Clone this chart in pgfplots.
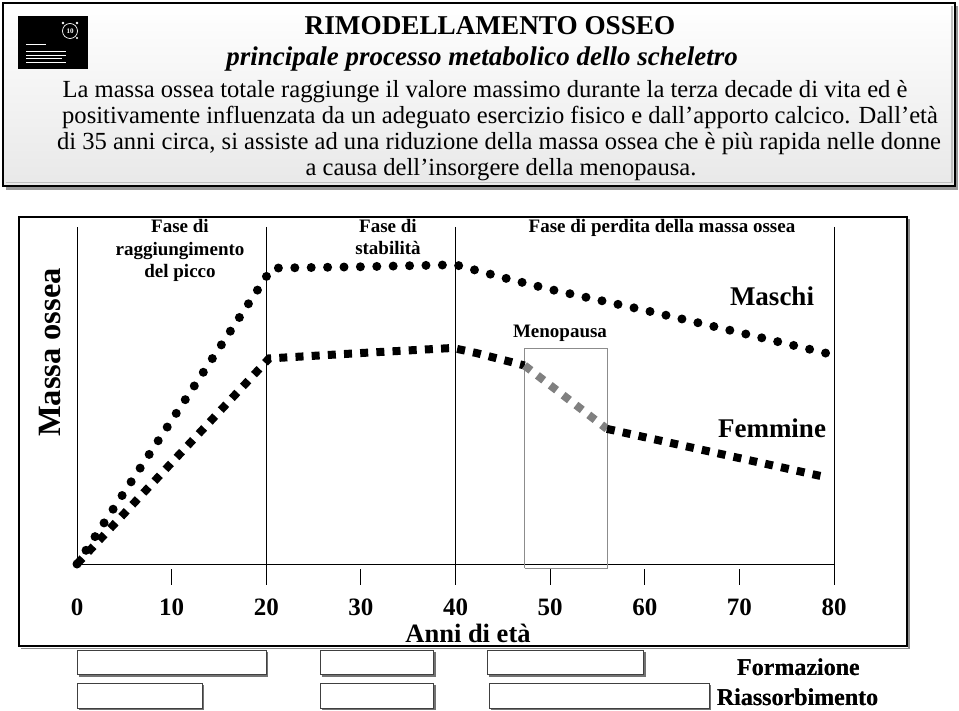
\documentclass[border=0pt]{standalone}
\usepackage{fontspec}
\setmainfont{Liberation Serif}
\usepackage{pgfplots}
\pgfplotsset{compat=1.18}
\newcommand{\fs}[1]{\fontsize{#1pt}{#1pt}\selectfont}
\begin{document}
\begin{tikzpicture}[x=1pt,y=-1pt]
\useasboundingbox (0,0) rectangle (959,711);
% ---------- top box ----------
\fill[black!40] (6,6) rectangle (958,190);
\shadedraw[top color=white, bottom color=black!9, draw=black, line width=2.8pt] (3,3) rectangle (955,186);
\draw[black!25, line width=1.2pt] (6,182.5) -- (952,182.5) -- (952,6);
% logo
\fill[black] (18,16) rectangle (88,69);
\draw[white, line width=0.7pt] (70,31) circle (7.5);
\node[white, font=\bfseries\fs{7}] at (70,31.5) {10};
\fill[white] (63,23) circle (1.3) (77,23) circle (1.3) (77,38) circle (1.2);
\draw[white, line width=0.5pt] (26,44) -- ++(20,0);
\draw[white, line width=0.5pt] (26,51) -- ++(40,0);
\draw[white, line width=0.5pt] (26,55) -- ++(40,0);
\draw[white, line width=0.5pt] (26,58.5) -- ++(36,0);
\draw[white, line width=0.5pt] (26,62) -- ++(40,0);
% titles
\node[anchor=base, font=\bfseries\fs{27.2}] at (490,35) {RIMODELLAMENTO OSSEO};
\node[anchor=base, font=\bfseries\itshape\fs{27}] at (482,66) {principale processo metabolico dello scheletro};
\node[anchor=base, font=\fs{24.6}] at (485,98) {La massa ossea totale raggiunge il valore massimo durante la terza decade di vita ed è};
\node[anchor=base, font=\fs{24.6}] at (500,124) {positivamente influenzata da un adeguato esercizio fisico e dall’apporto calcico. Dall’età};
\node[anchor=base, font=\fs{24.6}] at (499,150) {di 35 anni circa, si assiste ad una riduzione della massa ossea che è più rapida nelle donne};
\node[anchor=base, font=\fs{24.6}] at (501,176) {a causa dell’insorgere della menopausa.};
% ---------- chart frame ----------
\draw[black!45, line width=1.5pt] (21,648.5) -- (909,648.5) -- (909,219);
\draw[black, line width=1.8pt] (19,217) rectangle (907,646);
% ---------- axis ----------
\begin{axis}[
  at={(77pt,-564pt)}, anchor=south west,
  scale only axis, width=757pt, height=337pt,
  xmin=0, xmax=80, ymin=0, ymax=100,
  axis x line=bottom, axis y line=left,
  axis line style={-, black, line width=0.9pt},
  xtick={0,10,...,80}, ytick=\empty,
  xtick style={draw=none}, major tick length=0pt,
  xticklabel style={font=\bfseries\fs{25}, anchor=base, yshift=-51pt},
  /pgf/number format/assume math mode=true,
  clip=false,
]
% phase separators (long ticks)
\addplot[black, line width=0.9pt] coordinates {(20,100) (20,-6.2)};
\addplot[black, line width=0.9pt] coordinates {(40,100) (40,-6.2)};
\addplot[black, line width=0.9pt] coordinates {(80,100) (80,-6.2)};
% short ticks
\addplot[black, line width=0.9pt] coordinates {(10,-1.5) (10,-6.2)};
\addplot[black, line width=0.9pt] coordinates {(30,-1.5) (30,-6.2)};
\addplot[black, line width=0.9pt] coordinates {(50,-1.5) (50,-6.2)};
\addplot[black, line width=0.9pt] coordinates {(60,-1.5) (60,-6.2)};
\addplot[black, line width=0.9pt] coordinates {(70,-1.5) (70,-6.2)};
% menopause window
\addplot[black!45, line width=0.8pt] coordinates {(47.3,-1.2) (56.1,-1.2) (56.1,64.1) (47.3,64.1) (47.3,-1.2)};
% Maschi
\addplot[black, line width=9pt, line cap=round, dash pattern=on 0pt off 16.4pt]
  coordinates {(0,0) (20.6,87.8) (30,88.2) (40,88.8) (45,85.0) (50,81.5) (60,75.3) (70,68.7) (80,62.0)};
% Femmine
\addplot[black, line width=8pt, dash pattern=on 8pt off 8.2pt]
  coordinates {(0,0) (20.3,61.0) (30,62.6) (39.7,64.1) (42.2,62.6) (45.1,60.5) (47.3,58.9)};
\addplot[black!50, line width=8pt, dash pattern=on 8pt off 8.2pt]
  coordinates {(47.3,58.9) (56.0,40.1)};
\addplot[black, line width=8pt, dash pattern=on 8pt off 8.2pt]
  coordinates {(56.0,40.1) (66.5,33.6) (79.1,25.8)};
% Formazione / Riassorbimento boxes
\addplot[fill=black!55, draw=none, xshift=1.8pt, yshift=-1.8pt] coordinates {(0,-25.5) (20,-25.5) (20,-32.9) (0,-32.9)} --cycle;
\addplot[fill=black!55, draw=none, xshift=1.8pt, yshift=-1.8pt] coordinates {(25.7,-25.5) (37.7,-25.5) (37.7,-32.9) (25.7,-32.9)} --cycle;
\addplot[fill=black!55, draw=none, xshift=1.8pt, yshift=-1.8pt] coordinates {(43.4,-25.5) (59.9,-25.5) (59.9,-32.9) (43.4,-32.9)} --cycle;
\addplot[fill=black!55, draw=none, xshift=1.8pt, yshift=-1.8pt] coordinates {(0,-35.3) (13.2,-35.3) (13.2,-42.7) (0,-42.7)} --cycle;
\addplot[fill=black!55, draw=none, xshift=1.8pt, yshift=-1.8pt] coordinates {(25.7,-35.3) (37.7,-35.3) (37.7,-42.7) (25.7,-42.7)} --cycle;
\addplot[fill=black!55, draw=none, xshift=1.8pt, yshift=-1.8pt] coordinates {(43.6,-35.3) (66.8,-35.3) (66.8,-42.7) (43.6,-42.7)} --cycle;
\addplot[fill=white, draw=black!75, line width=0.8pt] coordinates {(0,-25.5) (20,-25.5) (20,-32.9) (0,-32.9)} --cycle;
\addplot[fill=white, draw=black!75, line width=0.8pt] coordinates {(25.7,-25.5) (37.7,-25.5) (37.7,-32.9) (25.7,-32.9)} --cycle;
\addplot[fill=white, draw=black!75, line width=0.8pt] coordinates {(43.4,-25.5) (59.9,-25.5) (59.9,-32.9) (43.4,-32.9)} --cycle;
\addplot[fill=white, draw=black!75, line width=0.8pt] coordinates {(0,-35.3) (13.2,-35.3) (13.2,-42.7) (0,-42.7)} --cycle;
\addplot[fill=white, draw=black!75, line width=0.8pt] coordinates {(25.7,-35.3) (37.7,-35.3) (37.7,-42.7) (25.7,-42.7)} --cycle;
\addplot[fill=white, draw=black!75, line width=0.8pt] coordinates {(43.6,-35.3) (66.8,-35.3) (66.8,-42.7) (43.6,-42.7)} --cycle;
\end{axis}
% ---------- chart texts ----------
\node[anchor=base, rotate=90, font=\bfseries\fs{32.5}] at (60,352.5) {Massa ossea};
\node[anchor=base, font=\bfseries\fs{19}] at (180,233) {Fase di};
\node[anchor=base, font=\bfseries\fs{19}] at (180,256) {raggiungimento};
\node[anchor=base, font=\bfseries\fs{19}] at (180,278) {del picco};
\node[anchor=base, font=\bfseries\fs{19}] at (388,233) {Fase di};
\node[anchor=base, font=\bfseries\fs{19}] at (388,255) {stabilità};
\node[anchor=base, font=\bfseries\fs{19}] at (662,233) {Fase di perdita della massa ossea};
\node[anchor=base, font=\bfseries\fs{27}] at (772,306) {Maschi};
\node[anchor=base, font=\bfseries\fs{27}] at (772,437) {Femmine};
\node[anchor=base, font=\bfseries\fs{19}] at (560,338) {Menopausa};
\node[anchor=base, font=\bfseries\fs{26.5}] at (468,642) {Anni di età};
\node[anchor=base, font=\bfseries\fs{24}] at (798.5,675) {Formazione};
\node[anchor=base, font=\bfseries\fs{24}] at (798.5,675.3) {Formazione};
\node[anchor=base, font=\bfseries\fs{24}] at (797.5,705) {Riassorbimento};
\node[anchor=base, font=\bfseries\fs{24}] at (797.8,705.3) {Riassorbimento};
\end{tikzpicture}
\end{document}
